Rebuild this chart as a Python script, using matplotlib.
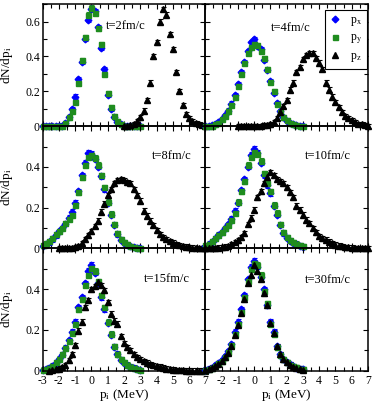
import matplotlib
matplotlib.use("Agg")
import matplotlib.pyplot as plt
from matplotlib.ticker import MultipleLocator
import numpy as np

plt.rcParams['font.family'] = ['Liberation Serif', 'DejaVu Serif']
plt.rcParams['mathtext.fontset'] = 'stix'
plt.rcParams['axes.unicode_minus'] = False

# momentum bins (MeV)
P_XY = np.linspace(-3.0, 3.0, 31)

# t = 2 fm/c
PX_T2 = [0, 0, 0, 0, 0, 0, 0.004, 0.02, 0.055, 0.10, 0.17, 0.27, 0.37, 0.50, 0.61, 0.67,
         0.66, 0.57, 0.45, 0.33, 0.18, 0.10, 0.055, 0.025, 0.01, 0.003, 0, 0, 0, 0, 0]
PY_T2 = [0, 0, 0, 0, 0, 0, 0.003, 0.02, 0.05, 0.09, 0.14, 0.25, 0.38, 0.51, 0.64, 0.68,
         0.65, 0.56, 0.47, 0.30, 0.19, 0.11, 0.06, 0.03, 0.01, 0.003, 0, 0, 0, 0, 0]
PZ_T2_P = np.linspace(2.0, 7.0, 26)
PZ_T2 = [0, 0.002, 0.005, 0.012, 0.03, 0.05, 0.09, 0.15, 0.25, 0.40, 0.48, 0.60, 0.67,
         0.64, 0.53, 0.44, 0.31, 0.20, 0.12, 0.07, 0.045, 0.03, 0.018, 0.01, 0.005, 0.002]

# t = 4 fm/c
PX_T4 = [0, 0, 0.005, 0.012, 0.022, 0.04, 0.062, 0.085, 0.13, 0.18, 0.24, 0.31, 0.37, 0.43,
         0.48, 0.50, 0.46, 0.44, 0.38, 0.32, 0.26, 0.19, 0.135, 0.085, 0.05, 0.03, 0.02,
         0.012, 0.006, 0.003, 0]
PY_T4 = [0, 0, 0.004, 0.01, 0.02, 0.04, 0.06, 0.09, 0.12, 0.17, 0.23, 0.30, 0.36, 0.42,
         0.455, 0.47, 0.465, 0.43, 0.39, 0.33, 0.255, 0.20, 0.13, 0.08, 0.05, 0.035, 0.02,
         0.012, 0.006, 0.003, 0]
PZ_T4_P = np.linspace(-1.0, 7.0, 41)
PZ_T4 = [0, 0, 0, 0, 0, 0.001, 0.002, 0.003, 0.005, 0.007,
         0.01, 0.025, 0.045, 0.08, 0.115, 0.15, 0.21, 0.25, 0.31, 0.34,
         0.385, 0.41, 0.42, 0.42, 0.39, 0.365, 0.33, 0.25, 0.21, 0.17,
         0.14, 0.11, 0.08, 0.06, 0.045, 0.033, 0.022, 0.015, 0.01, 0.005, 0.002]

# t = 8 fm/c
PX_T8 = [0.012, 0.02, 0.03, 0.045, 0.065, 0.085, 0.10, 0.12, 0.15, 0.18,
         0.225, 0.28, 0.36, 0.42, 0.47, 0.465, 0.44, 0.40, 0.355, 0.29,
         0.225, 0.165, 0.115, 0.07, 0.042, 0.028, 0.018, 0.011, 0.006, 0.003, 0.001]
PY_T8 = [0.015, 0.025, 0.035, 0.05, 0.07, 0.085, 0.10, 0.125, 0.145, 0.165,
         0.215, 0.275, 0.35, 0.41, 0.45, 0.46, 0.445, 0.41, 0.36, 0.30,
         0.23, 0.17, 0.12, 0.075, 0.045, 0.03, 0.02, 0.012, 0.007, 0.003, 0.001]
PZ_T8_P = np.linspace(-2.0, 7.0, 46)
PZ_T8 = [0, 0, 0, 0, 0.002, 0.005, 0.012, 0.025, 0.045, 0.065,
         0.085, 0.11, 0.135, 0.18, 0.22, 0.26, 0.29, 0.32, 0.335, 0.34,
         0.335, 0.325, 0.32, 0.29, 0.26, 0.235, 0.185, 0.16, 0.135, 0.115,
         0.09, 0.07, 0.055, 0.045, 0.035, 0.027, 0.02, 0.015, 0.012, 0.008,
         0.005, 0.003, 0.002, 0.001, 0, 0]

# t = 10 fm/c
PX_T10 = [0.012, 0.02, 0.032, 0.048, 0.065, 0.08, 0.098, 0.12, 0.145, 0.185,
          0.225, 0.285, 0.34, 0.40, 0.46, 0.49, 0.47, 0.42, 0.36, 0.31,
          0.27, 0.21, 0.165, 0.115, 0.075, 0.052, 0.038, 0.028, 0.02, 0.013, 0.008]
PY_T10 = [0.015, 0.022, 0.035, 0.05, 0.068, 0.08, 0.10, 0.115, 0.14, 0.175,
          0.23, 0.28, 0.33, 0.41, 0.45, 0.475, 0.465, 0.43, 0.37, 0.32,
          0.28, 0.215, 0.175, 0.12, 0.08, 0.055, 0.04, 0.03, 0.022, 0.015, 0.01]
PZ_T10_P = np.linspace(-3.0, 7.0, 51)
PZ_T10 = [0, 0, 0, 0.002, 0.003, 0.005, 0.008, 0.012, 0.02, 0.03,
          0.04, 0.055, 0.075, 0.12, 0.15, 0.19, 0.25, 0.28, 0.32, 0.35,
          0.375, 0.36, 0.34, 0.33, 0.32, 0.30, 0.275, 0.25, 0.21, 0.19,
          0.165, 0.14, 0.125, 0.10, 0.08, 0.06, 0.05, 0.042, 0.033, 0.026,
          0.019, 0.013, 0.01, 0.007, 0.005, 0.003, 0.002, 0.001, 0, 0, 0]

# t = 15 fm/c
PX_T15 = [0.003, 0.007, 0.013, 0.022, 0.038, 0.055, 0.078, 0.11, 0.15, 0.19,
          0.24, 0.31, 0.36, 0.43, 0.49, 0.52, 0.48, 0.43, 0.36, 0.30,
          0.235, 0.175, 0.118, 0.08, 0.053, 0.038, 0.027, 0.018, 0.012, 0.006, 0.003]
PY_T15 = [0.004, 0.008, 0.014, 0.024, 0.04, 0.058, 0.08, 0.112, 0.145, 0.185,
          0.23, 0.30, 0.35, 0.42, 0.47, 0.505, 0.49, 0.44, 0.37, 0.31,
          0.24, 0.18, 0.12, 0.082, 0.055, 0.04, 0.029, 0.02, 0.013, 0.007, 0.003]
PZ_T15_P = np.linspace(-2.6, 7.0, 49)
PZ_T15 = [0, 0.003, 0.006, 0.01, 0.016, 0.025, 0.05, 0.08, 0.125, 0.195,
          0.24, 0.31, 0.345, 0.40, 0.415, 0.435, 0.42, 0.395, 0.335, 0.28,
          0.245, 0.23, 0.17, 0.135, 0.115, 0.10, 0.08, 0.065, 0.055, 0.045,
          0.038, 0.032, 0.027, 0.022, 0.018, 0.014, 0.01, 0.008, 0.005, 0.003,
          0.002, 0.001, 0, 0, 0, 0, 0, 0, 0]

# t = 30 fm/c
PX_T30 = [0.004, 0.009, 0.015, 0.025, 0.036, 0.05, 0.07, 0.095, 0.13, 0.19,
          0.24, 0.30, 0.37, 0.45, 0.51, 0.54, 0.51, 0.46, 0.40, 0.32,
          0.24, 0.19, 0.12, 0.08, 0.056, 0.04, 0.03, 0.021, 0.015, 0.01, 0.006]
PY_T30 = [0.003, 0.008, 0.014, 0.024, 0.035, 0.048, 0.068, 0.09, 0.125, 0.18,
          0.23, 0.29, 0.36, 0.44, 0.50, 0.53, 0.52, 0.47, 0.39, 0.33,
          0.23, 0.18, 0.115, 0.078, 0.055, 0.04, 0.029, 0.021, 0.016, 0.01, 0.006]
PZ_T30_P = np.linspace(-3.0, 3.0, 31)
PZ_T30 = [0.003, 0.007, 0.013, 0.022, 0.034, 0.047, 0.066, 0.088, 0.12, 0.175,
          0.225, 0.285, 0.35, 0.43, 0.47, 0.52, 0.49, 0.45, 0.38, 0.32,
          0.235, 0.185, 0.12, 0.08, 0.055, 0.04, 0.028, 0.02, 0.014, 0.009, 0.005]

ERR = 0.012
LABELS = ['t=2fm/c', 't=4fm/c', 't=8fm/c', 't=10fm/c', 't=15fm/c', 't=30fm/c']

panels = [
    (PX_T2, PY_T2, PZ_T2_P, PZ_T2),
    (PX_T4, PY_T4, PZ_T4_P, PZ_T4),
    (PX_T8, PY_T8, PZ_T8_P, PZ_T8),
    (PX_T10, PY_T10, PZ_T10_P, PZ_T10),
    (PX_T15, PY_T15, PZ_T15_P, PZ_T15),
    (PX_T30, PY_T30, PZ_T30_P, PZ_T30),
]
label_pos = [(0.39, 0.82), (0.40, 0.80), (0.67, 0.76), (0.61, 0.76), (0.62, 0.75), (0.61, 0.745)]

GREEN = '#1f8c1f'

fig = plt.figure(figsize=(3.74, 4.05), dpi=100)
gs = fig.add_gridspec(3, 2, left=0.114, right=0.984, top=0.990, bottom=0.085,
                      hspace=0, wspace=0)

for i, (px, py, pz_p, pz) in enumerate(panels):
    row, col = divmod(i, 2)
    ax = fig.add_subplot(gs[row, col])
    ax.patch.set_alpha(0)

    style = dict(yerr=ERR, elinewidth=0.8, capsize=1.8, capthick=0.8, clip_on=False, lw=0)
    h1 = ax.errorbar(P_XY, px, fmt='D', ms=3.4, color='#0000ff', **style)
    h2 = ax.errorbar(P_XY, py, fmt='s', ms=3.6, color=GREEN, **style)
    h3 = ax.errorbar(pz_p, pz, fmt='^', ms=4.0, color='black', **style)

    ax.set_xlim(-3, 7)
    ymax = 0.7 if row == 0 else 0.6
    ax.set_ylim(0, ymax)

    ax.xaxis.set_major_locator(MultipleLocator(1))
    ax.xaxis.set_minor_locator(MultipleLocator(0.5))
    ax.yaxis.set_minor_locator(MultipleLocator(0.1))
    if row == 0:
        ax.set_yticks([0, 0.2, 0.4, 0.6])
    else:
        ax.set_yticks([0, 0.2, 0.4])
    ax.tick_params(which='both', direction='in', top=True, right=True, width=0.8)
    ax.tick_params(which='major', length=3.5, labelsize=8.5, pad=2)
    ax.tick_params(axis='x', which='major', pad=3)
    ax.tick_params(which='minor', length=2.8)
    for s in ax.spines.values():
        s.set_linewidth(1.1)

    if col == 0:
        ax.set_yticklabels(['%g' % v for v in ax.get_yticks()])
        ax.set_ylabel('dN/dp$_\\mathrm{i}$', fontsize=9.5)
        ax.yaxis.set_label_coords(-0.17, 0.5)
    else:
        ax.set_yticklabels([])

    if row == 2:
        ticks = list(range(-3, 8))
        ax.set_xticks(ticks)
        if col == 0:
            ax.set_xticklabels([str(t) for t in ticks])
        else:
            ax.set_xticklabels([''] + [str(t) for t in ticks[1:]])
        ax.set_xlabel('p$_\\mathrm{i}$ (MeV)', fontsize=9.5, labelpad=0)
    else:
        ax.set_xticklabels([])

    ax.text(label_pos[i][0], label_pos[i][1], LABELS[i], transform=ax.transAxes,
            ha='left', va='center', fontsize=9)

    if i == 1:
        leg = ax.legend([h1[0], h2[0], h3[0]],
                        ['p$_\\mathrm{x}$', 'p$_\\mathrm{y}$', 'p$_\\mathrm{z}$'],
                        loc='upper right', bbox_to_anchor=(0.995, 0.955), fontsize=8.5,
                        fancybox=False, edgecolor='black', framealpha=1,
                        handlelength=1.0, handletextpad=0.8, borderpad=0.4,
                        labelspacing=0.3, borderaxespad=0)
        leg.get_frame().set_linewidth(0.8)

fig.savefig('out.png', dpi=100)
